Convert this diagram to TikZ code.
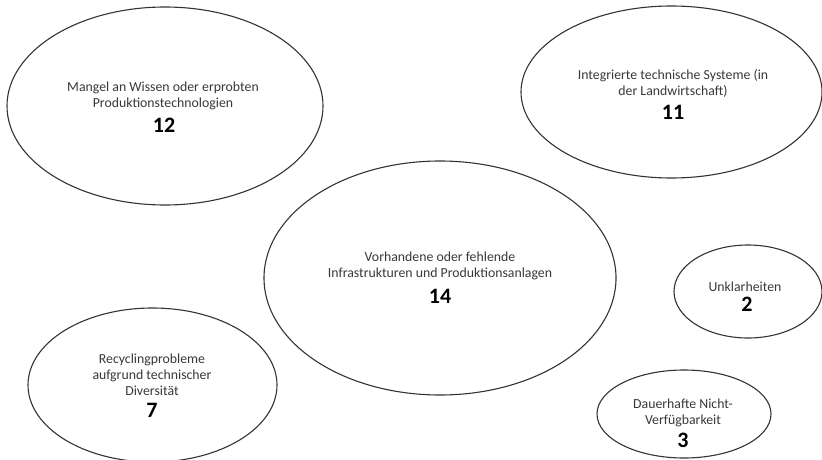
\documentclass[tikz,border=0pt]{standalone}
\usepackage{fontspec}
\setmainfont{Carlito}
\usetikzlibrary{shapes.geometric}
\begin{document}
\begin{tikzpicture}[x=1pt,y=-1pt,
  blob/.style={draw=black!80,line width=1.1pt,ellipse,inner sep=0pt},
  lbl/.style={align=center,font=\fontsize{13.8}{16}\selectfont,text=black!78,inner sep=0pt},
  num/.style={font=\fontsize{22}{24}\selectfont\bfseries,text=black,inner sep=0pt}]
\useasboundingbox (0,0) rectangle (822,460);
\clip (0,0) rectangle (822,460);
% ellipses
\node[blob,minimum width=316pt,minimum height=198pt] (e1) at (165,106) {};
\node[blob,minimum width=301pt,minimum height=172pt] (e2) at (671.5,92) {};
\node[blob,minimum width=352pt,minimum height=234pt] (e3) at (440,278) {};
\node[blob,minimum width=148pt,minimum height=93pt] (e4) at (748,291.5) {};
\node[blob,minimum width=249pt,minimum height=154pt] (e5) at (152.5,385) {};
\node[blob,minimum width=174pt,minimum height=88pt] (e6) at (684,414) {};
% labels
\node[lbl] (t1) at (163,96) {Mangel an Wissen oder erprobten\\Produktionstechnologien};
\node[num] (n1) at (164,125) {12};
\node[lbl] (t2) at (673,83) {Integrierte technische Systeme (in\\der Landwirtschaft)};
\node[num] (n2) at (673,112) {11};
\node[lbl] (t3) at (440,266) {Vorhandene oder fehlende\\Infrastrukturen und Produktionsanlagen};
\node[num] (n3) at (440,296) {14};
\node[lbl] (t4) at (745,287) {Unklarheiten};
\node[num] (n4) at (747,304) {2};
\node[lbl] (t5) at (152,375) {Recyclingprobleme\\aufgrund technischer\\Diversität};
\node[num] (n5) at (152,410) {7};
\node[lbl] (t6) at (683,413) {Dauerhafte Nicht-\\Verfügbarkeit};
\node[num] (n6) at (683,440) {3};
\end{tikzpicture}
\end{document}
